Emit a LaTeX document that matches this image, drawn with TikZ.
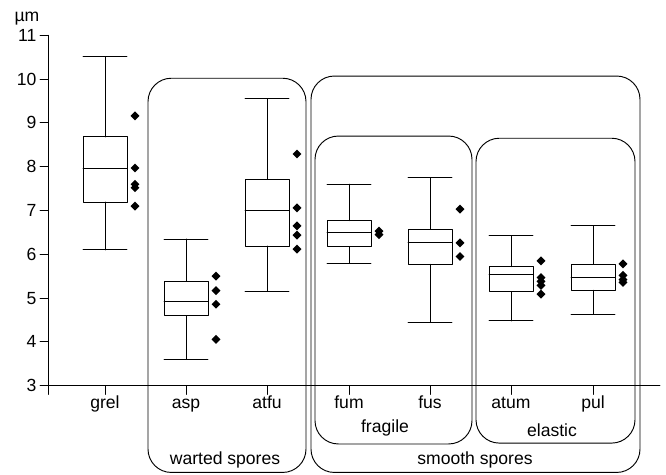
\documentclass[tikz,border=0pt]{standalone}
\usepackage{fontspec}
\setmainfont{Liberation Sans}
\usetikzlibrary{shapes.geometric}

\begin{document}
\begin{tikzpicture}[line cap=round,line join=round,x=0.03cm,y=1.314cm,
  font=\fontsize{15}{17}\selectfont,line width=0.8pt,
  outlier/.style={diamond,fill=black,inner sep=0pt,minimum size=0.28cm},
  group/.style={rounded corners=0.7cm}]
\useasboundingbox (0,0.984) rectangle (666,11.806);
% axes
\draw (48,11) -- (48,2.8);
\draw (48,3) -- (660,3);
\foreach \v in {3,...,11} {
  \draw (40,\v) -- (48,\v);
  \node[anchor=east,inner sep=1pt] (y\v) at (38,\v) {\v};
}
\node[anchor=base] (unit) at (27,11.31) {µm};
\foreach \x/\n in {105/grel,186/asp,267/atfu,349/fum,430/fus,511/atum,593/pul} {
  \draw (\x,3) -- (\x,2.8);
  \node[anchor=base] (\n) at (\x,2.49) {\n};
}
% box plots: x / low whisker / q1 / median / q3 / high whisker / outliers
\foreach \x/\lo/\qa/\me/\qb/\hi/\outs in {
  105/6.1/7.19/7.96/8.68/10.51/{9.16,7.97,7.6,7.52,7.1},
  186/3.61/4.60/4.93/5.38/6.35/{5.5,5.17,4.86,4.06},
  267/5.16/6.19/7.01/7.71/9.55/{8.29,7.06,6.65,6.44,6.12},
  349/5.79/6.17/6.49/6.77/7.6/{6.45,6.53},
  430/4.45/5.77/6.27/6.57/7.75/{7.03,6.26,5.95},
  511/4.48/5.15/5.53/5.72/6.42/{5.85,5.47,5.38,5.29,5.09},
  593/4.63/5.18/5.48/5.77/6.65/{5.78,5.52,5.42,5.36}} {
  \draw (\x,\lo) -- (\x,\qa) (\x,\qb) -- (\x,\hi);
  \draw (\x-22,\lo) -- (\x+22,\lo) (\x-22,\hi) -- (\x+22,\hi);
  \draw (\x-22,\qa) rectangle (\x+22,\qb);
  \draw (\x-22,\me) -- (\x+22,\me);
  \foreach \o [count=\k] in \outs
    \node[outlier] (o\x-\k) at (\x+30,\o) {};
}
% groups
\draw[group] (148,10.02) rectangle (306,1.02);
\draw[group] (311,10.07) rectangle (640,1.02);
\draw[group] (315,8.70) rectangle (472,1.67);
\draw[group] (476,8.65) rectangle (635,1.69);
\node[anchor=base] (fragile) at (385,1.93) {fragile};
\node[anchor=base] (elastic) at (552,1.84) {elastic};
\node[anchor=base] (warted) at (225,1.19) {warted spores};
\node[anchor=base] (smooth) at (475,1.19) {smooth spores};
\end{tikzpicture}
\end{document}
